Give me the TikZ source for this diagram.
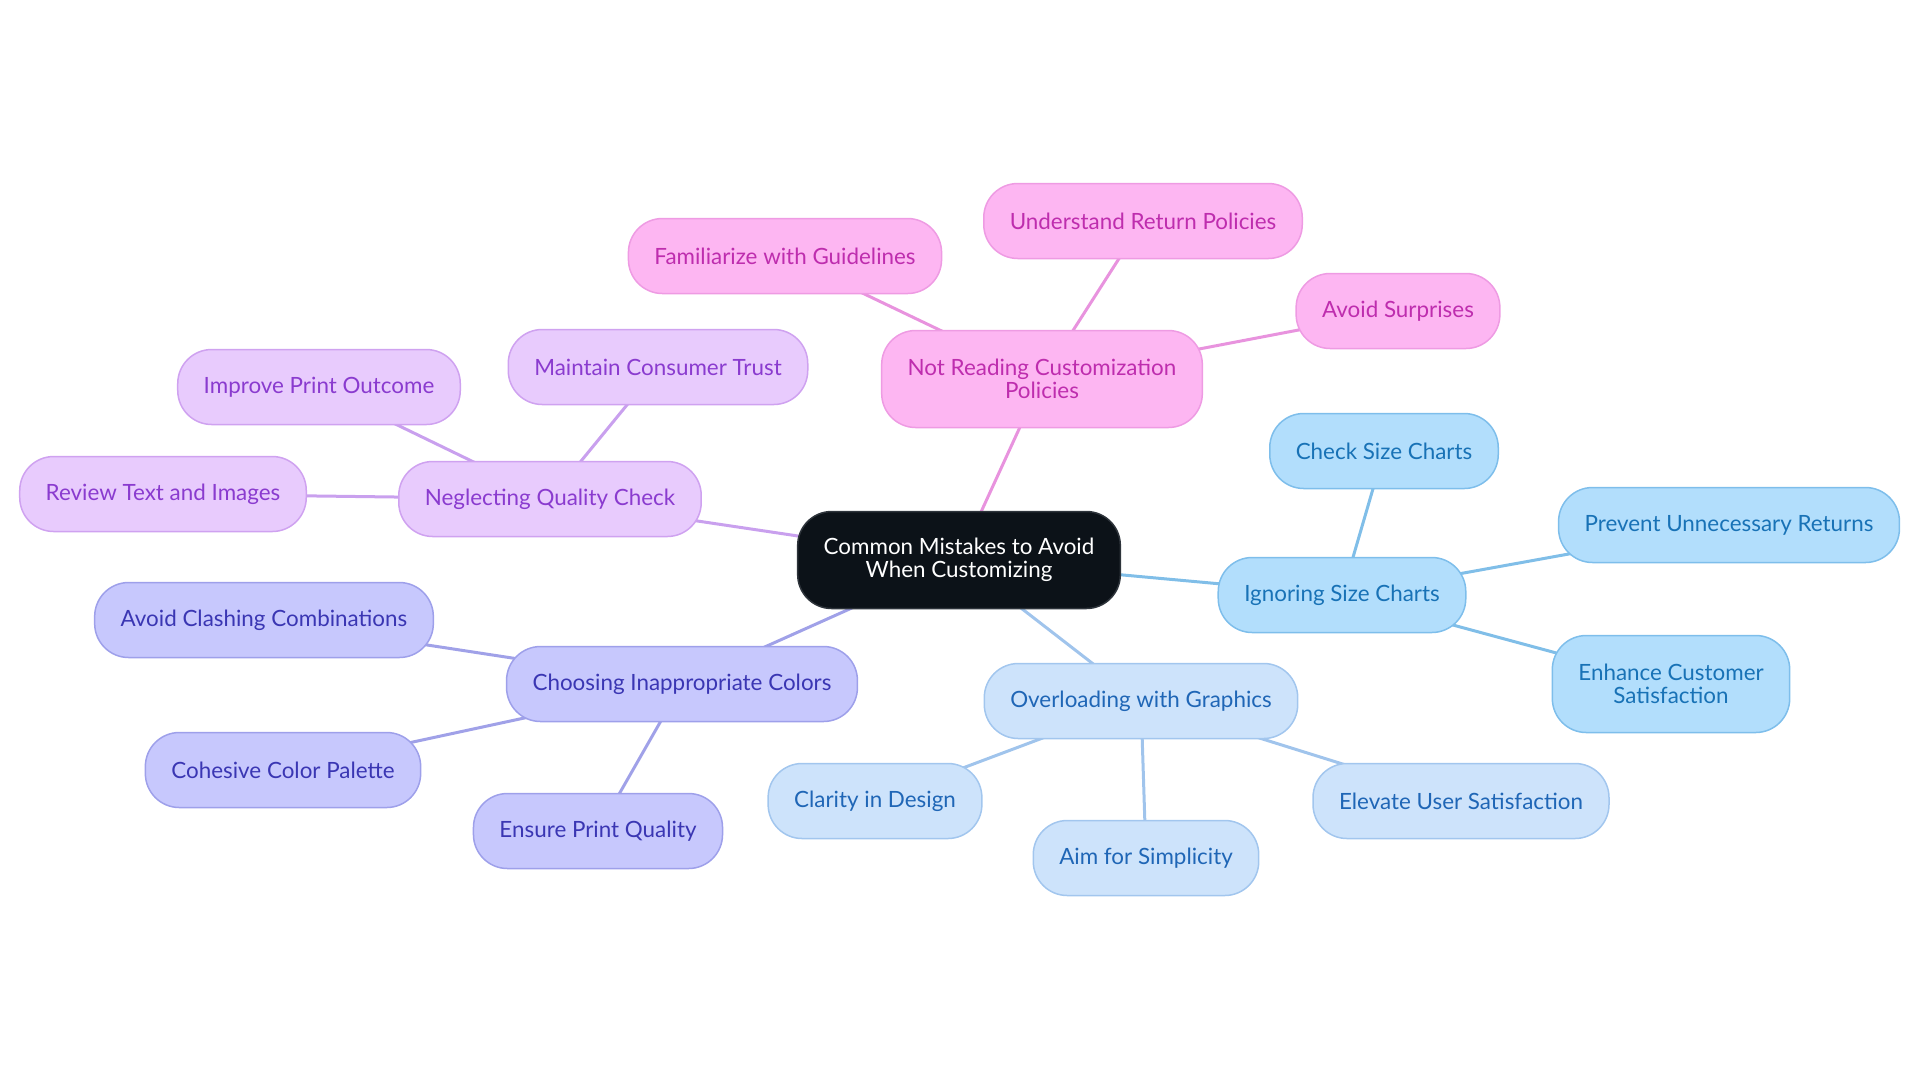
\documentclass[tikz,border=0pt]{standalone}
\usepackage{fontspec}
\setmainfont{Lato}
\pgfdeclarelayer{background}
\pgfsetlayers{background,main}
\definecolor{pinkF}{HTML}{FDB6F2}
\definecolor{pinkD}{HTML}{EE9BE3}
\definecolor{pinkT}{HTML}{BE2DAE}
\definecolor{pinkE}{HTML}{E893DE}
\definecolor{purF}{HTML}{E8CBFD}
\definecolor{purD}{HTML}{CFA2F0}
\definecolor{purT}{HTML}{8A3BCF}
\definecolor{purE}{HTML}{C9A0EE}
\definecolor{indF}{HTML}{C7C8FD}
\definecolor{indD}{HTML}{9EA0EA}
\definecolor{indT}{HTML}{3A36B3}
\definecolor{indE}{HTML}{A0A1E8}
\definecolor{lbF}{HTML}{CDE3FB}
\definecolor{lbD}{HTML}{A2C6EE}
\definecolor{lbT}{HTML}{1F66B6}
\definecolor{lbE}{HTML}{A0C4EC}
\definecolor{skF}{HTML}{B2DEFC}
\definecolor{skD}{HTML}{7EBEEB}
\definecolor{skT}{HTML}{1872B6}
\definecolor{skE}{HTML}{80BEE8}
\definecolor{ctrF}{HTML}{0C1218}
\definecolor{ctrD}{HTML}{2E343B}
\tikzset{
  base/.style={rectangle, rounded corners=17pt, line width=0.75pt, inner xsep=13pt, inner ysep=4pt,
    minimum height=37.5pt, font=\fontsize{11.2}{11.5}\selectfont, align=center},
  tall/.style={minimum height=48.5pt},
  ctrN/.style={base, fill=ctrF, draw=ctrD, text=white},
  pinkN/.style={base, fill=pinkF, draw=pinkD, text=pinkT},
  purN/.style={base, fill=purF, draw=purD, text=purT},
  indN/.style={base, fill=indF, draw=indD, text=indT},
  lbN/.style={base, fill=lbF, draw=lbD, text=lbT},
  skN/.style={base, fill=skF, draw=skD, text=skT},
  edge/.style={line width=1.5pt}
}
\begin{document}
\begin{tikzpicture}[x=0.5pt,y=-0.5pt]
\useasboundingbox (0,0) rectangle (1920,1083);
% center
\node[ctrN, tall] (c) at (959,560) {Common Mistakes to Avoid\\When Customizing};
% pink
\node[pinkN, tall] (nr) at (1042,379) {Not Reading Customization\\Policies};
\node[pinkN] (fam) at (785,256) {Familiarize with Guidelines};
\node[pinkN] (urp) at (1143,221) {Understand Return Policies};
\node[pinkN] (asur) at (1398,311) {Avoid Surprises};
% sky
\node[skN] (isc) at (1342,595) {Ignoring Size Charts};
\node[skN] (csc) at (1384,451) {Check Size Charts};
\node[skN] (pur) at (1729,525) {Prevent Unnecessary Returns};
\node[skN, tall] (ecs) at (1671,684) {Enhance Customer\\Satisfaction};
% light blue
\node[lbN] (owg) at (1141,701) {Overloading with Graphics};
\node[lbN] (cid) at (875,801) {Clarity in Design};
\node[lbN] (afs) at (1146,858) {Aim for Simplicity};
\node[lbN] (eus) at (1461,801) {Elevate User Satisfaction};
% indigo
\node[indN] (cic) at (682,684) {Choosing Inappropriate Colors};
\node[indN] (acc) at (264,620) {Avoid Clashing Combinations};
\node[indN] (ccp) at (283,770) {Cohesive Color Palette};
\node[indN] (epq) at (598,831) {Ensure Print Quality};
% purple
\node[purN] (nqc) at (550,499) {Neglecting Quality Check};
\node[purN] (ipo) at (319,387) {Improve Print Outcome};
\node[purN] (mct) at (658,367) {Maintain Consumer Trust};
\node[purN] (rti) at (163,494) {Review Text and Images};
\begin{pgfonlayer}{background}
\draw[edge, pinkE] (c.center) -- (nr.center);
\draw[edge, pinkE] (nr.center) -- (fam.center);
\draw[edge, pinkE] (nr.center) -- (urp.center);
\draw[edge, pinkE] (nr.center) -- (asur.center);
\draw[edge, skE] (c.center) -- (isc.center);
\draw[edge, skE] (isc.center) -- (csc.center);
\draw[edge, skE] (isc.center) -- (pur.center);
\draw[edge, skE] (isc.center) -- (ecs.center);
\draw[edge, lbE] (c.center) -- (owg.center);
\draw[edge, lbE] (owg.center) -- (cid.center);
\draw[edge, lbE] (owg.center) -- (afs.center);
\draw[edge, lbE] (owg.center) -- (eus.center);
\draw[edge, indE] (c.center) -- (cic.center);
\draw[edge, indE] (cic.center) -- (acc.center);
\draw[edge, indE] (cic.center) -- (ccp.center);
\draw[edge, indE] (cic.center) -- (epq.center);
\draw[edge, purE] (c.center) -- (nqc.center);
\draw[edge, purE] (nqc.center) -- (ipo.center);
\draw[edge, purE] (nqc.center) -- (mct.center);
\draw[edge, purE] (nqc.center) -- (rti.center);
\end{pgfonlayer}
\end{tikzpicture}
\end{document}
